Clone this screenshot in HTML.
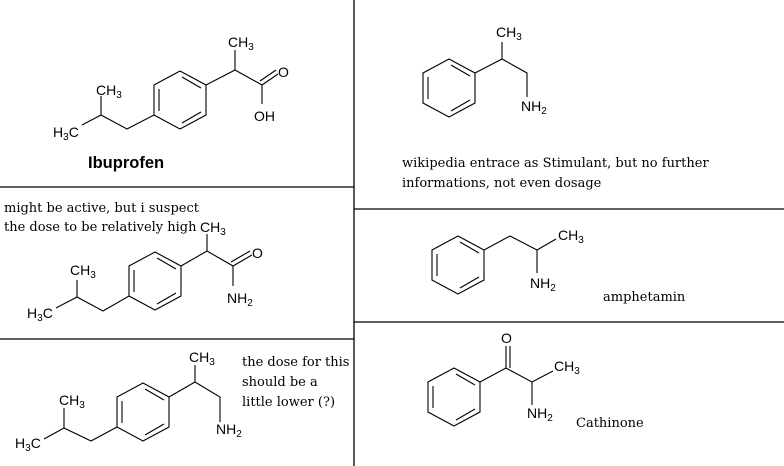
<!DOCTYPE html>
<html><head><meta charset="utf-8"><style>
html,body{margin:0;padding:0;background:#fff;}
svg{display:block}
text{font-family:"Liberation Sans",sans-serif;font-size:14px;fill:#000}
.s{font-family:"DejaVu Serif","Liberation Serif",serif;font-size:13px}
.sub{font-size:10px}
</style></head><body>
<svg width="784" height="466" viewBox="0 0 784 466" xmlns="http://www.w3.org/2000/svg">
<defs>
<g id="ring" fill="none" stroke="#000" stroke-width="1.1">
<polygon points="0,-29 26,-15 26,15 0,29 -26,15 -26,-15"/>
<line x1="2" y1="-23" x2="21" y2="-12"/>
<line x1="21" y1="12" x2="2" y2="23"/>
<line x1="-21" y1="-11" x2="-21" y2="11"/>
</g>
</defs>
<g stroke="#000" stroke-width="1.3">
<line x1="354" y1="0" x2="354" y2="466"/>
<line x1="0" y1="187" x2="354" y2="187"/>
<line x1="0" y1="339" x2="354" y2="339"/>
<line x1="354" y1="209" x2="784" y2="209"/>
<line x1="354" y1="322" x2="784" y2="322"/>
</g>
<g fill="none" stroke="#000" stroke-width="1.1">
<use href="#ring" x="180" y="100"/>
<polyline points="206,85 235,70 235,50"/>
<polyline points="235,70 262,85 262,104"/>
<line x1="262" y1="85" x2="278" y2="74"/><line x1="260" y1="81" x2="276" y2="70"/>
<polyline points="154,115 127,129 101,115 101,96"/>
<line x1="101" y1="115" x2="82" y2="125"/>
<use href="#ring" x="155" y="281"/>
<polyline points="181,266 207,251 207,234"/>
<polyline points="207,251 233,266 233,286"/>
<line x1="233" y1="266" x2="252" y2="255"/><line x1="231" y1="262" x2="250" y2="251"/>
<polyline points="129,296 103,311 77,297 77,280"/>
<line x1="77" y1="297" x2="56" y2="308"/>
<use href="#ring" x="143" y="412"/>
<polyline points="169,397 195,382 195,365"/>
<polyline points="195,382 220,397 220,422"/>
<polyline points="117,427 91,441 64,428 64,408"/>
<line x1="64" y1="428" x2="44" y2="439"/>
<use href="#ring" x="449" y="88"/>
<polyline points="475,73 502,59 502,42"/>
<polyline points="502,59 527,73 527,97"/>
<use href="#ring" x="458" y="265"/>
<polyline points="484,250 510,236 537,250 556,239"/>
<line x1="537" y1="250" x2="537" y2="273"/>
<use href="#ring" x="454" y="397"/>
<polyline points="480,382 506,368 532,382 553,371"/>
<line x1="506" y1="368" x2="506" y2="346"/><line x1="510" y1="368" x2="510" y2="346"/>
<line x1="532" y1="382" x2="532" y2="405"/>
</g>
<text x="228" y="47">CH<tspan class="sub" dy="3">3</tspan></text>
<text x="278" y="77">O</text>
<text x="254" y="121">OH</text>
<text x="96" y="95">CH<tspan class="sub" dy="3">3</tspan></text>
<text x="53" y="137">H<tspan class="sub" dy="3">3</tspan><tspan dy="-3">C</tspan></text>
<text x="88" y="168" style="font-weight:bold;font-size:16.5px">Ibuprofen</text>

<text class="s" x="4" y="212">might be active, but i suspect</text>
<text class="s" x="4" y="231">the dose to be relatively high</text>
<text x="200" y="232">CH<tspan class="sub" dy="3">3</tspan></text>
<text x="252" y="258">O</text>
<text x="227" y="303">NH<tspan class="sub" dy="3">2</tspan></text>
<text x="70" y="275">CH<tspan class="sub" dy="3">3</tspan></text>
<text x="27" y="318">H<tspan class="sub" dy="3">3</tspan><tspan dy="-3">C</tspan></text>

<text x="189" y="362">CH<tspan class="sub" dy="3">3</tspan></text>
<text x="216" y="434">NH<tspan class="sub" dy="3">2</tspan></text>
<text x="59" y="405">CH<tspan class="sub" dy="3">3</tspan></text>
<text x="15" y="448">H<tspan class="sub" dy="3">3</tspan><tspan dy="-3">C</tspan></text>
<text class="s" x="242" y="366">the dose for this</text>
<text class="s" x="242" y="386">should be a</text>
<text class="s" x="242" y="406">little lower (?)</text>

<text x="496" y="37">CH<tspan class="sub" dy="3">3</tspan></text>
<text x="521" y="111">NH<tspan class="sub" dy="3">2</tspan></text>
<text class="s" x="402" y="167">wikipedia entrace as Stimulant, but no further</text>
<text class="s" x="402" y="187">informations, not even dosage</text>

<text x="558" y="240">CH<tspan class="sub" dy="3">3</tspan></text>
<text x="530" y="288">NH<tspan class="sub" dy="3">2</tspan></text>
<text class="s" x="603" y="301">amphetamin</text>

<text x="501" y="343">O</text>
<text x="554" y="371">CH<tspan class="sub" dy="3">3</tspan></text>
<text x="527" y="418">NH<tspan class="sub" dy="3">2</tspan></text>
<text class="s" x="576" y="427">Cathinone</text>
</svg>
</body></html>
